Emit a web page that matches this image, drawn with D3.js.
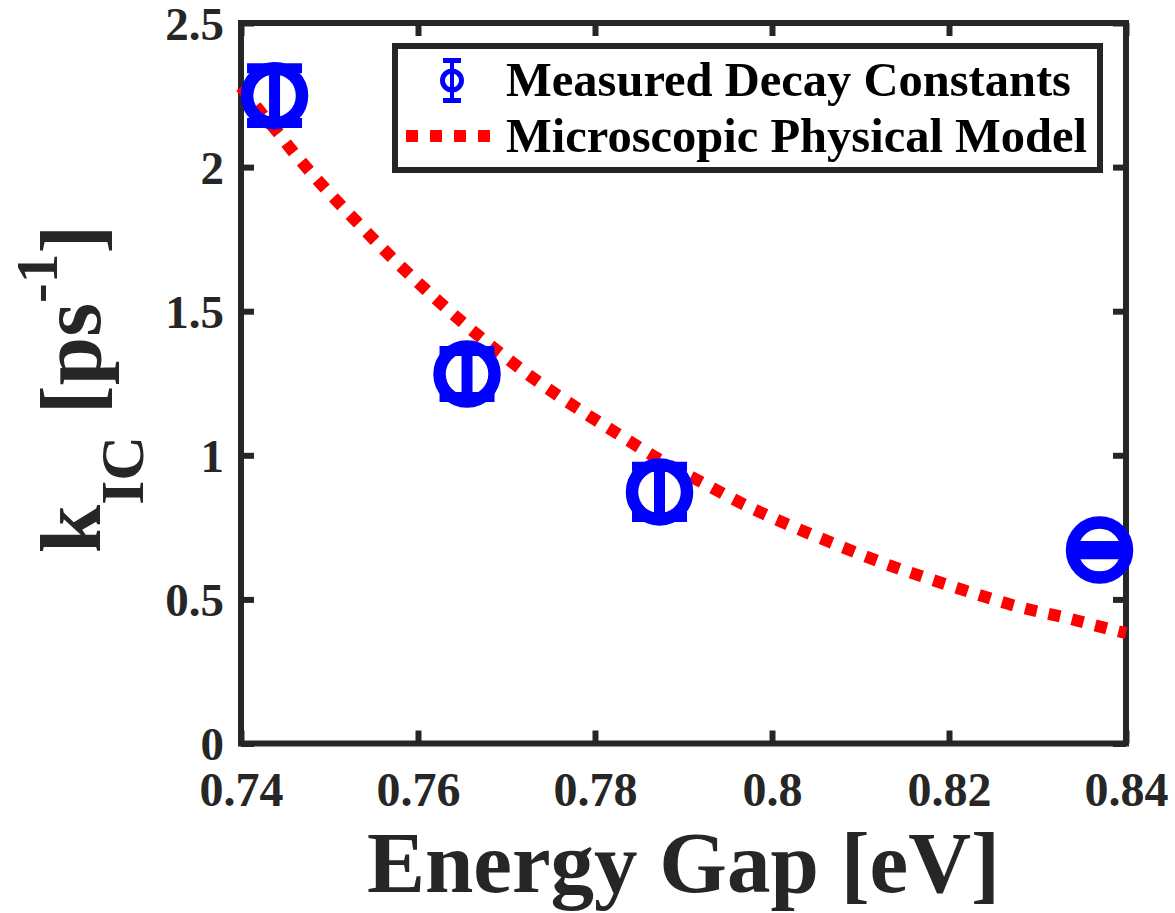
<!DOCTYPE html>
<html>
<head>
<meta charset="utf-8">
<script src="https://cdn.jsdelivr.net/npm/d3@7"></script>
<style>
  html, body { margin: 0; padding: 0; background: #ffffff; }
  svg { display: block; }
  text { font-family: "Liberation Serif", "Times New Roman", serif; font-weight: bold; }
</style>
</head>
<body>
<svg id="chart" width="1175" height="913"></svg>
<script>
// ---- data ----
const measuredGap = [0.74379, 0.76554, 0.78729, 0.83701];
const measuredK   = [2.248, 1.282, 0.873, 0.671];
const measuredErr = [0.095, 0.080, 0.087, 0.014];

const modelGap = [0.7400, 0.74215, 0.74395, 0.74576, 0.74927, 0.75299, 0.75684, 0.76079,
                  0.76497, 0.76915, 0.77345, 0.77800, 0.78260, 0.78734, 0.79220, 0.79718,
                  0.80215, 0.80712, 0.81220, 0.81751, 0.82271, 0.82791, 0.83322, 0.83853, 0.8400];
const modelK   = [2.278, 2.194, 2.128, 2.058, 1.934, 1.813, 1.692, 1.577,
                  1.463, 1.358, 1.258, 1.163, 1.074, 0.984, 0.904, 0.824,
                  0.755, 0.692, 0.630, 0.574, 0.522, 0.474, 0.436, 0.394, 0.383];

const xTicks = [0.74, 0.76, 0.78, 0.80, 0.82, 0.84];
const xTickLabels = ["0.74", "0.76", "0.78", "0.8", "0.82", "0.84"];
const yTicks = [0, 0.5, 1, 1.5, 2, 2.5];
const yTickLabels = ["0", "0.5", "1", "1.5", "2", "2.5"];

const legendLabels = ["Measured Decay Constants", "Microscopic Physical Model"];
const xLabel = "Energy Gap [eV]";

// ---- layout ----
const axisColor = "#262626";
const L = 241, R = 1126, T = 23, B = 743.5;
const svg = d3.select("#chart");

const x = d3.scaleLinear().domain([0.74, 0.84]).range([L, R]);
const y = d3.scaleLinear().domain([0, 2.5]).range([B, T]);

// axes (box with inward ticks)
const axW = 6, tickLen = 13;
const axG = svg.append("g");

function styleAxis(g) {
  g.select(".domain").remove();
  g.selectAll(".tick line").attr("stroke", axisColor).attr("stroke-width", axW);
  g.selectAll(".tick text").attr("fill", axisColor).attr("font-size", 48)
    .style("font-family", '"Liberation Serif", "Times New Roman", serif').style("font-weight", "bold");
}

const xb = axG.append("g").attr("transform", `translate(0,${B})`)
  .call(d3.axisBottom(x).tickValues(xTicks).tickFormat((d, i) => xTickLabels[i])
        .tickSizeInner(-tickLen).tickSizeOuter(0).tickPadding(0));
styleAxis(xb);
xb.selectAll(".tick text").attr("y", 62.5).attr("dy", null);

const xt = axG.append("g").attr("transform", `translate(0,${T})`)
  .call(d3.axisTop(x).tickValues(xTicks).tickFormat("").tickSizeInner(-tickLen).tickSizeOuter(0));
styleAxis(xt);

const yl = axG.append("g").attr("transform", `translate(${L},0)`)
  .call(d3.axisLeft(y).tickValues(yTicks).tickFormat((d, i) => yTickLabels[i])
        .tickSizeInner(-tickLen).tickSizeOuter(0).tickPadding(0));
styleAxis(yl);
yl.selectAll(".tick text").attr("x", -17).attr("dy", "0.35em").attr("font-size", 47);

const yr = axG.append("g").attr("transform", `translate(${R},0)`)
  .call(d3.axisRight(y).tickValues(yTicks).tickFormat("").tickSizeInner(-tickLen).tickSizeOuter(0));
styleAxis(yr);

// frame
axG.append("rect").attr("x", L).attr("y", T).attr("width", R - L).attr("height", B - T)
  .attr("fill", "none").attr("stroke", axisColor).attr("stroke-width", axW)
  .attr("stroke-linecap", "square");

// model curve (red dotted)
const line = d3.line().x((d, i) => x(modelGap[i])).y((d, i) => y(modelK[i])).curve(d3.curveMonotoneX);
svg.append("path").datum(modelGap).attr("d", line)
  .attr("fill", "none").attr("stroke", "#ff0000").attr("stroke-width", 12)
  .attr("stroke-dasharray", "12,12").attr("stroke-linecap", "butt");

// measured points with error bars
const blue = "#0000ff";
const capHalf = 27.5;
const pts = svg.append("g");
measuredGap.forEach((g, i) => {
  const cx = x(g), cy = y(measuredK[i]);
  const yTop = y(measuredK[i] + measuredErr[i]), yBot = y(measuredK[i] - measuredErr[i]);
  pts.append("line").attr("x1", cx).attr("x2", cx).attr("y1", yTop).attr("y2", yBot)
    .attr("stroke", blue).attr("stroke-width", 11);
  [yTop, yBot].forEach(yy => {
    pts.append("line").attr("x1", cx - capHalf).attr("x2", cx + capHalf).attr("y1", yy).attr("y2", yy)
      .attr("stroke", blue).attr("stroke-width", 10);
  });
  pts.append("circle").attr("cx", cx).attr("cy", cy).attr("r", 27.5)
    .attr("fill", "none").attr("stroke", blue).attr("stroke-width", 12.5);
});

// legend
const lg = svg.append("g");
lg.append("rect").attr("x", 395).attr("y", 46).attr("width", 705).attr("height", 124)
  .attr("fill", "#ffffff").attr("stroke", axisColor).attr("stroke-width", 6);
// marker entry
const mx = 452, my = 80.5;
lg.append("line").attr("x1", mx).attr("x2", mx).attr("y1", 60.5).attr("y2", 100.5)
  .attr("stroke", blue).attr("stroke-width", 4);
[60.5, 100.5].forEach(yy => lg.append("line").attr("x1", mx - 9).attr("x2", mx + 9)
  .attr("y1", yy).attr("y2", yy).attr("stroke", blue).attr("stroke-width", 5));
lg.append("circle").attr("cx", mx).attr("cy", my).attr("r", 9.5)
  .attr("fill", "none").attr("stroke", blue).attr("stroke-width", 5);
// line entry
lg.append("line").attr("x1", 406).attr("x2", 490).attr("y1", 136).attr("y2", 136)
  .attr("stroke", "#ff0000").attr("stroke-width", 12).attr("stroke-dasharray", "12,12");
lg.selectAll("text.leg").data(legendLabels).join("text").attr("class", "leg")
  .attr("x", 506).attr("y", (d, i) => [96, 152][i])
  .attr("font-size", 48.5).attr("fill", "#000000").text(d => d);

// x axis label
svg.append("text").attr("x", (L + R) / 2).attr("y", 892).attr("text-anchor", "middle")
  .attr("font-size", 87).attr("fill", axisColor).text(xLabel);

// y axis label: k_IC [ps^-1]
const yt = svg.append("text").attr("transform", "translate(100,389) rotate(-90)")
  .attr("text-anchor", "middle").attr("fill", axisColor).attr("font-size", 87);
yt.append("tspan").text("k");
yt.append("tspan").attr("font-size", 62).attr("dy", 43).text("IC");
yt.append("tspan").attr("dy", -43).text("\u00a0[ps");
yt.append("tspan").attr("font-size", 59).attr("dy", -43).text("-1");
yt.append("tspan").attr("dy", 43).text("]");
</script>
</body>
</html>
